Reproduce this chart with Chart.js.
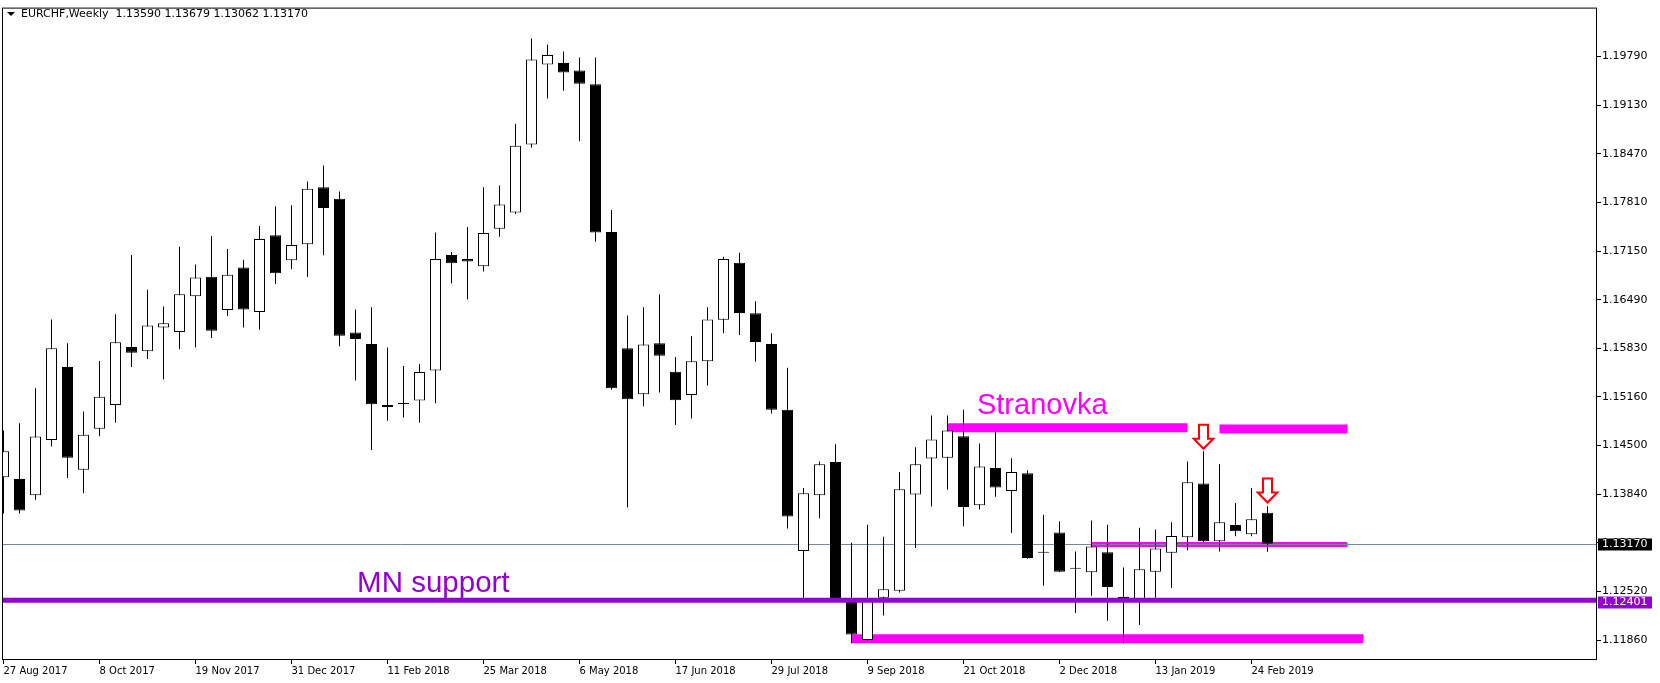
<!DOCTYPE html>
<html lang="en">
<head>
    <meta charset="UTF-8">
    <title>EURCHF, Weekly</title>
    <script src="https://cdn.jsdelivr.net/npm/chart.js"></script>
    <style>
        body { margin: 0; background: #fff; }
        #grafico { display: block; }
    </style>
</head>
<body>
    <canvas id="grafico" width="1660" height="683"></canvas>

    <script>
        // EURCHF weekly candles, one per week from 27 Aug 2017 to 3 Mar 2019
        const symbol = 'EURCHF';
        const period = 'Weekly';

        const xTickLabels = ['27 Aug 2017', '8 Oct 2017', '19 Nov 2017', '31 Dec 2017', '11 Feb 2018',
            '25 Mar 2018', '6 May 2018', '17 Jun 2018', '29 Jul 2018', '9 Sep 2018', '21 Oct 2018',
            '2 Dec 2018', '13 Jan 2019', '24 Feb 2019'];
        const weeksPerLabel = 6;

        const yTickValues = [1.118600, 1.125208, 1.131817, 1.138425, 1.145033, 1.151642, 1.158250,
            1.164858, 1.171467, 1.178075, 1.184683, 1.191292, 1.197900];
        const yTickLabels = ['1.11860', '1.12520', '1.13180', '1.13840', '1.14500', '1.15160', '1.15830',
            '1.16490', '1.17150', '1.17810', '1.18470', '1.19130', '1.19790'];

        const opens = [
            1.14075, 1.14050, 1.13828, 1.14579, 1.15573, 1.14174, 1.14732, 1.15055, 1.15843, 1.15785,
            1.16107, 1.16049, 1.16535, 1.16800, 1.16348, 1.16923, 1.16318, 1.17363, 1.17023, 1.17240,
            1.18015, 1.17857, 1.16042, 1.15883, 1.15027, 1.15073, 1.15115, 1.15525, 1.17094, 1.17041,
            1.16941, 1.17452, 1.17670, 1.18597, 1.19684, 1.19702, 1.19601, 1.19415, 1.17406, 1.15825,
            1.15203, 1.15896, 1.15508, 1.15191, 1.15649, 1.16213, 1.16988, 1.16301, 1.15883, 1.14992,
            1.13071, 1.13828, 1.14280, 1.12395, 1.11860, 1.12436, 1.12530, 1.13839, 1.14327, 1.14339,
            1.14632, 1.13693, 1.14198, 1.13886, 1.14128, 1.13046, 1.13323, 1.12829, 1.12782, 1.13053,
            1.12450, 1.12389, 1.12789, 1.13046, 1.13258, 1.13987, 1.13205, 1.13423, 1.13299, 1.13590];
        const highs = [
            1.14709, 1.14808, 1.15284, 1.16218, 1.15896, 1.14967, 1.15654, 1.16289, 1.17094, 1.16623,
            1.16394, 1.17205, 1.16965, 1.17353, 1.17177, 1.17029, 1.17487, 1.17758, 1.17769, 1.18093,
            1.18310, 1.17957, 1.16354, 1.16384, 1.15837, 1.15584, 1.15614, 1.17399, 1.17134, 1.17476,
            1.18015, 1.18040, 1.18879, 1.20037, 1.19954, 1.19861, 1.19778, 1.19778, 1.17705, 1.16271,
            1.16384, 1.16560, 1.15707, 1.15989, 1.16384, 1.17071, 1.17124, 1.16465, 1.16031, 1.15561,
            1.13927, 1.14287, 1.14521, 1.13182, 1.13428, 1.13264, 1.14146, 1.14480, 1.14914, 1.14914,
            1.14992, 1.14533, 1.14692, 1.14332, 1.14169, 1.13564, 1.13476, 1.13064, 1.13486, 1.13428,
            1.12847, 1.13388, 1.13363, 1.13463, 1.14287, 1.14428, 1.14251, 1.13723, 1.13927, 1.13679];
        const lows = [
            1.13582, 1.13582, 1.13769, 1.14491, 1.14063, 1.13857, 1.14632, 1.14815, 1.15573, 1.15679,
            1.15402, 1.15813, 1.15837, 1.15966, 1.16266, 1.16107, 1.16077, 1.16701, 1.16900, 1.16794,
            1.17089, 1.15855, 1.15390, 1.14445, 1.14843, 1.14886, 1.14815, 1.15080, 1.16706, 1.16489,
            1.16870, 1.17341, 1.17652, 1.18556, 1.19221, 1.19327, 1.18639, 1.17275, 1.15266, 1.13663,
            1.15037, 1.15226, 1.14785, 1.14873, 1.15319, 1.16031, 1.16007, 1.15644, 1.14939, 1.13376,
            1.12401, 1.13517, 1.12400, 1.11819, 1.11848, 1.12195, 1.12507, 1.13111, 1.13675, 1.13904,
            1.13406, 1.13634, 1.13810, 1.13317, 1.12965, 1.12600, 1.12785, 1.12230, 1.12464, 1.12124,
            1.11819, 1.12066, 1.12436, 1.12570, 1.13081, 1.13195, 1.13064, 1.13270, 1.13270, 1.13062];
        const closes = [
            1.14428, 1.13622, 1.14627, 1.15825, 1.14339, 1.14650, 1.15168, 1.15908, 1.15767, 1.16137,
            1.16165, 1.16560, 1.16789, 1.16066, 1.16824, 1.16354, 1.17311, 1.16847, 1.17229, 1.17993,
            1.17734, 1.15996, 1.15954, 1.15067, 1.15055, 1.15070, 1.15503, 1.17041, 1.16983, 1.17006,
            1.17393, 1.17781, 1.18579, 1.19750, 1.19813, 1.19573, 1.19420, 1.17399, 1.15284, 1.15132,
            1.15878, 1.15725, 1.15120, 1.15649, 1.16218, 1.17041, 1.16306, 1.15913, 1.14992, 1.13539,
            1.13857, 1.14251, 1.12415, 1.11936, 1.12406, 1.12553, 1.13909, 1.14251, 1.14586, 1.14710,
            1.13670, 1.14221, 1.13934, 1.14145, 1.12976, 1.13046, 1.12789, 1.12829, 1.13134, 1.12582,
            1.12430, 1.12824, 1.13106, 1.13275, 1.14005, 1.13205, 1.13463, 1.13340, 1.13504, 1.13170];

        // drawn objects: support level, range lines (from week, to week, price), arrows, texts
        const supportLevel = 1.12401;
        const rangeFrom = [59, 76, 68, 53];
        const rangeTo = [74, 84, 84, 85];
        const rangeLevel = [1.14745, 1.14730, 1.13158, 1.11878];
        const arrowWeek = [75, 79];
        const arrowPrice = [1.14460, 1.13730];
        const textLabels = ['MN support', 'Stranovka'];
        const textWeek = [22.1, 60.84];
        const textPrice = [1.12513, 1.14938];

        const rangeWidths = [9, 9, 5, 9];
        const textColors = ['#9400D3', '#FF00FF'];
        const textFonts = ['29.5px "Liberation Sans", Arial, sans-serif', '29px "Liberation Sans", Arial, sans-serif'];

        const idx = opens.map((_, i) => i);
        const wicks = idx.map(i => ({ x: i, y: [lows[i], highs[i]] }));
        const bodies = idx.map(i => ({ x: i, y: [opens[i], closes[i]] }));
        const bodyColors = idx.map(i => closes[i] >= opens[i] ? '#ffffff' : '#000000');
        const last = opens.length - 1;

        function drawArrow(ctx, tx, ty) {
            ctx.beginPath();
            ctx.moveTo(tx - 4.5, ty - 24);
            ctx.lineTo(tx + 4.5, ty - 24);
            ctx.lineTo(tx + 4.5, ty - 10);
            ctx.lineTo(tx + 9.8, ty - 10);
            ctx.lineTo(tx, ty);
            ctx.lineTo(tx - 9.8, ty - 10);
            ctx.lineTo(tx - 4.5, ty - 10);
            ctx.closePath();
            ctx.fillStyle = '#ffffff';
            ctx.fill();
            ctx.lineJoin = 'miter';
            ctx.strokeStyle = '#FF0000';
            ctx.lineWidth = 2;
            ctx.stroke();
        }

        function priceBox(ctx, area, py, text, color) {
            ctx.fillStyle = color;
            ctx.fillRect(area.right + 1, py - 5.5, 54, 12);
            ctx.fillStyle = '#ffffff';
            ctx.font = '11px "DejaVu Sans", sans-serif';
            ctx.textAlign = 'left';
            ctx.textBaseline = 'middle';
            ctx.fillText(text, area.right + 5, py + 0.5);
        }

        const overlay = {
            id: 'overlay',
            beforeDatasetsDraw(chart) {
                const { ctx, chartArea: a, scales: { x, y } } = chart;
                ctx.save();
                ctx.beginPath();
                ctx.rect(a.left, a.top, a.right - a.left, a.bottom - a.top);
                ctx.clip();
                ctx.strokeStyle = '#FF00FF';
                ctx.lineCap = 'butt';
                rangeLevel.forEach((lvl, k) => {
                    const py = y.getPixelForValue(lvl);
                    ctx.lineWidth = rangeWidths[k];
                    ctx.beginPath();
                    ctx.moveTo(x.getPixelForValue(rangeFrom[k]), py);
                    ctx.lineTo(x.getPixelForValue(rangeTo[k]), py);
                    ctx.stroke();
                });
                // current price line
                const cy = Math.round(y.getPixelForValue(closes[last])) + 0.5;
                ctx.strokeStyle = '#778899';
                ctx.lineWidth = 1;
                ctx.beginPath();
                ctx.moveTo(a.left, cy);
                ctx.lineTo(a.right, cy);
                ctx.stroke();
                ctx.restore();
            },
            afterDatasetsDraw(chart) {
                const { ctx, chartArea: a, scales: { x, y } } = chart;
                ctx.save();
                ctx.beginPath();
                ctx.rect(a.left, a.top, a.right - a.left, a.bottom - a.top);
                ctx.clip();
                // MN support line
                const sy = y.getPixelForValue(supportLevel);
                ctx.strokeStyle = '#9400D3';
                ctx.lineWidth = 5;
                ctx.beginPath();
                ctx.moveTo(a.left, sy);
                ctx.lineTo(a.right, sy);
                ctx.stroke();

                textLabels.forEach((t, k) => {
                    ctx.font = textFonts[k];
                    ctx.fillStyle = textColors[k];
                    ctx.textAlign = 'left';
                    ctx.textBaseline = 'alphabetic';
                    ctx.fillText(t, x.getPixelForValue(textWeek[k]), y.getPixelForValue(textPrice[k]));
                });

                arrowWeek.forEach((w, k) => drawArrow(ctx, x.getPixelForValue(w), y.getPixelForValue(arrowPrice[k])));
                ctx.restore();

                // frame
                ctx.save();
                ctx.strokeStyle = '#000000';
                ctx.lineWidth = 1;
                ctx.strokeRect(a.left + 0.5, a.top + 0.5, a.right - a.left - 1, a.bottom - a.top - 1);

                // header
                ctx.fillStyle = '#000000';
                ctx.beginPath();
                ctx.moveTo(7, 12);
                ctx.lineTo(15, 12);
                ctx.lineTo(11, 16);
                ctx.closePath();
                ctx.fill();
                ctx.font = '11px "DejaVu Sans", sans-serif';
                ctx.textAlign = 'left';
                ctx.textBaseline = 'middle';
                const head = symbol + ',' + period + '  ' + [opens[last], highs[last], lows[last], closes[last]]
                    .map(v => v.toFixed(5)).join(' ');
                ctx.fillText(head, 21, 14);

                // price labels on the axis
                priceBox(ctx, a, Math.round(y.getPixelForValue(closes[last])), closes[last].toFixed(5), '#000000');
                priceBox(ctx, a, Math.round(sy) + 2, supportLevel.toFixed(5), '#9400D3');
                ctx.restore();
            }
        };

        const ctx = document.getElementById('grafico').getContext('2d');
        const myChart = new Chart(ctx, {
            type: 'bar',
            data: {
                datasets: [{
                    label: 'wick',
                    data: wicks,
                    backgroundColor: '#000000',
                    borderWidth: 0,
                    barThickness: 1,
                    grouped: false,
                    inflateAmount: 0,
                    order: 2
                },
                {
                    label: 'body',
                    data: bodies,
                    backgroundColor: bodyColors,
                    borderColor: '#000000',
                    borderWidth: 1,
                    borderSkipped: false,
                    barThickness: 11,
                    minBarLength: 1,
                    grouped: false,
                    inflateAmount: 0,
                    order: 1
                }]
            },
            options: {
                responsive: false,
                animation: false,
                layout: { padding: { left: 2, top: 4, right: 0, bottom: 0 } },
                plugins: {
                    legend: { display: false },
                    tooltip: { enabled: false }
                },
                scales: {
                    x: {
                        type: 'linear',
                        offset: false,
                        min: -0.09375,
                        max: 99.59375,
                        bounds: 'data',
                        grid: { offset: false, drawOnChartArea: false, drawTicks: true, tickLength: 4, color: '#000000' },
                        border: { display: false },
                        afterFit: s => { s.height = 23; },
                        afterBuildTicks: s => { s.ticks = xTickLabels.map((_, k) => ({ value: k * weeksPerLabel })); },
                        ticks: {
                            autoSkip: false,
                            maxRotation: 0,
                            minRotation: 0,
                            align: 'start',
                            padding: 1,
                            color: '#000000',
                            font: { family: '"DejaVu Sans", sans-serif', size: 10, lineHeight: 1.2 },
                            callback: (v, i) => xTickLabels[i]
                        }
                    },
                    y: {
                        type: 'linear',
                        position: 'right',
                        beginAtZero: false,
                        min: 1.115898,
                        max: 1.204563,
                        bounds: 'data',
                        grid: { drawOnChartArea: false, drawTicks: true, tickLength: 4, color: '#000000' },
                        border: { display: false },
                        afterFit: s => { s.width = 63; },
                        afterBuildTicks: s => { s.ticks = yTickValues.map(v => ({ value: v })); },
                        ticks: {
                            padding: 1,
                            color: '#000000',
                            font: { family: '"DejaVu Sans", sans-serif', size: 11 },
                            callback: (v, i) => yTickLabels[i]
                        }
                    }
                }
            },
            plugins: [overlay]
        });
    </script>
</body>
</html>
